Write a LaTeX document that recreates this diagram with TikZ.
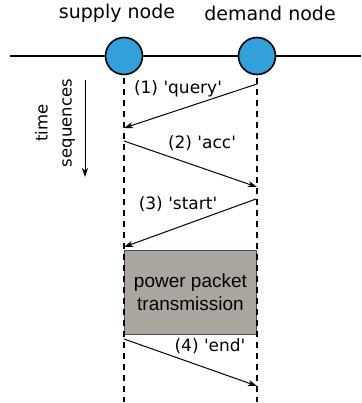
\documentclass[tikz,border=0pt]{standalone}
\usepackage{fontspec}
\setmainfont{DejaVu Sans}
\newfontfamily\boxfont{Liberation Sans}
\usetikzlibrary{arrows.meta}
\usetikzlibrary{positioning}

\definecolor{nodeblue}{RGB}{52,160,219}
\definecolor{boxgray}{RGB}{171,166,160}
\newcommand{\q}{\textquotesingle}

\tikzset{
	stn/.style={circle, draw, line width=1.6pt, fill=nodeblue, minimum size=37pt, inner sep=0pt},
	lifeline/.style={line width=1.5pt, dash pattern=on 6pt off 5pt},
	msg/.style={line width=1pt, -{Stealth[length=9pt,width=6pt,inset=2.5pt]}},
	msglab/.style={font=\fontsize{17}{19}\selectfont, inner sep=0pt}
}

\begin{document}
\begin{tikzpicture}[x=1pt, y=-1pt]
	\useasboundingbox (0,0) rectangle (361,403);
	% nodes on the line
	\node[font=\fontsize{19}{21}\selectfont] (suptitle) at (117,13) {supply node};
	\node[font=\fontsize{19}{21}\selectfont] (demtitle) at (270,13) {demand node};
	\coordinate (lend) at (10,56);
	\coordinate (rend) at (361,56);
	\node[stn] (sup) at (124,56) {};
	\node[stn] (dem) at (257,56) {};
	\draw[line width=1.6pt] (lend) -- (sup) -- (dem) -- (rend);

	% packet box
	\node[draw=black!70, line width=0.8pt, fill=boxgray, minimum width=132pt, minimum height=84pt,
		align=center, font=\boxfont\fontsize{19}{23}\selectfont] (pkt) at (190.5,292)
		{power packet\\transmission};

	% lifelines
	\coordinate (suptop) at (124,78);
	\coordinate (supbot) at (124,402);
	\coordinate (demtop) at (257,78);
	\coordinate (dembot) at (257,402);
	\draw[lifeline] (suptop) -- (supbot);
	\draw[lifeline] (demtop) -- (dembot);

	% messages
	\coordinate (d1) at (257,84);   \coordinate (s1) at (124,128);
	\coordinate (s2) at (124,141);  \coordinate (d2) at (257,187);
	\coordinate (d3) at (256,199);  \coordinate (s3) at (124,247);
	\coordinate (s4) at (124,339);  \coordinate (d4) at (257,386);
	\draw[msg] (d1) -- (s1);
	\draw[msg] (s2) -- (d2);
	\draw[msg] (d3) -- (s3);
	\draw[msg] (s4) -- (d4);
	\node[msglab] (lab1) at (178,89) {(1) \q query\q};
	\node[msglab] (lab2) at (202,143) {(2) \q acc\q};
	\node[msglab] (lab3) at (178,204) {(3) \q start\q};
	\node[msglab] (lab4) at (210,346) {(4) \q end\q};

	% time axis
	\coordinate (ttop) at (85,80);
	\coordinate (tbot) at (85,177);
	\draw[line width=1pt, -{Stealth[length=9pt,width=6pt,inset=2.5pt]}] (ttop) -- (tbot);
	\node[rotate=90, align=center, font=\fontsize{16.5}{24}\selectfont] (tlab) at (55,123)
		{time\\sequences};
\end{tikzpicture}
\end{document}
